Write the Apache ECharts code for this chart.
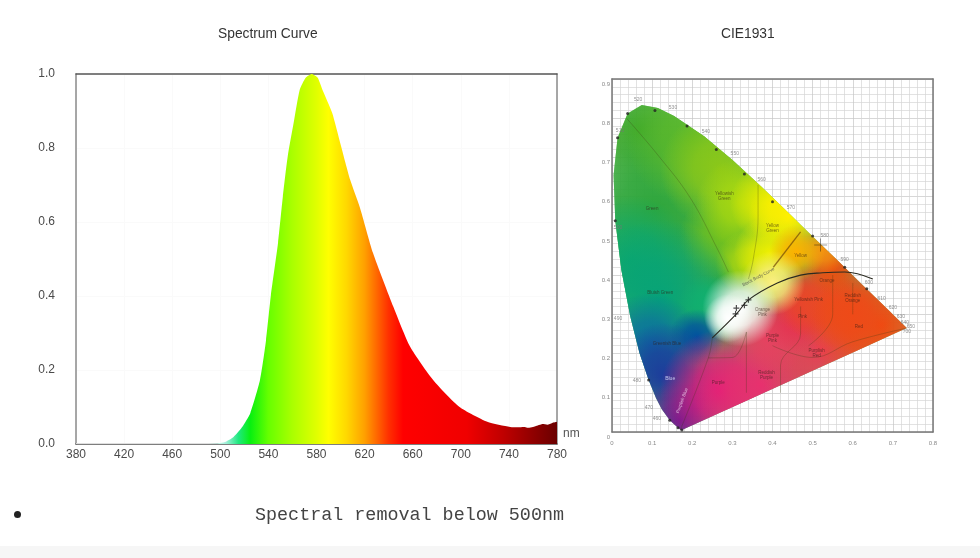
<!DOCTYPE html>
<html>
<head>
<meta charset="utf-8">
<title>Spectrum Curve / CIE1931</title>
<style>
  html, body { margin: 0; padding: 0; background: #fff; }
  #main { width: 980px; height: 558px; }
</style>
</head>
<body>
<div id="main"></div>
<script src="https://cdn.jsdelivr.net/npm/echarts@6/dist/echarts.min.js"></script>
<script>
// spectrum curve
var wavelengths = [380,420,460,490,500,505,511,518,525,533,538,542,548,552,556,561,566,571,576,581,585,593,600,608,616,627,644,658,677,699,722,741,748,752,756,760,764,768,772,776,780];
var intensity = [.002,.002,.002,.002,.003,.007,.019,.045,.084,.173,.28,.4,.543,.668,.776,.868,.957,.99,1,.99,.957,.895,.81,.714,.64,.516,.37,.262,.173,.1,.06,.046,.045,.046,.044,.046,.05,.054,.052,.057,.06];

// CIE1931 spectral locus [x, y]
var locus = [[.1741,.005],[.1714,.0051],[.1644,.0109],[.144,.0297],[.1241,.0578],[.1096,.0868],[.0913,.1327],[.0687,.2007],[.0454,.295],[.0235,.4127],[.0082,.5384],[.0039,.6548],[.0139,.7502],[.0389,.812],[.0743,.8338],[.1142,.8262],[.1547,.8059],[.2296,.7543],[.3016,.6923],[.3731,.6245],[.4441,.5547],[.5125,.4866],[.5752,.4242],[.627,.3725],[.6658,.334],[.6915,.3083],[.7079,.292],[.726,.274],[.7347,.2653]];
var locusDots = [[.1741,.005],[.1644,.0109],[.144,.0297],[.0913,.1327],[.0082,.5384],[.0139,.7502],[.0389,.812],[.107,.82],[.187,.78],[.26,.72],[.33,.658],[.4,.587],[.5,.5],[.58,.42],[.635,.365]];
var locusLabels = [[.015,.29,'490'],[.062,.13,'480'],[.092,.061,'470'],[.112,.033,'460'],[.015,.522,'500'],[.02,.768,'510'],[.065,.848,'520'],[.152,.827,'530'],[.234,.765,'540'],[.306,.709,'550'],[.373,.643,'560'],[.446,.572,'570'],[.53,.5,'580'],[.58,.44,'590'],[.64,.38,'600'],[.672,.34,'610'],[.7,.318,'620'],[.72,.295,'630'],[.73,.28,'640'],[.745,.268,'650'],[.735,.255,'700']];

// colour patches of the diagram [x, y, radius, colour]
var gamutPatches = [
  [.3,.4,.8,'#38a838'],
  [.07,.77,.16,'#3da82a'],[.107,.566,.2,'#2ea63c'],[.195,.745,.16,'#5ab82a'],[.27,.67,.15,'#8cc818'],
  [.277,.497,.11,'#70c020'],[.319,.584,.11,'#a8d810'],[.394,.584,.1,'#e8ec00'],[.44,.55,.1,'#fff000'],
  [.337,.431,.08,'#b0d810'],[.394,.457,.09,'#f0f000'],
  [.045,.44,.16,'#0fa86a'],[.12,.337,.2,'#05a378'],[.237,.329,.07,'#10b070'],
  [.095,.222,.13,'#0b6fa0'],[.212,.242,.07,'#0050a0'],[.13,.145,.13,'#1c3b9c'],
  [.17,.03,.1,'#6a1b90'],[.27,.107,.15,'#e0127f'],[.37,.12,.17,'#e8306e'],[.52,.21,.17,'#ea3c55'],
  [.387,.242,.1,'#e84060'],[.461,.293,.09,'#e83050'],[.486,.337,.09,'#e94030'],
  [.54,.337,.12,'#e84a25'],[.67,.273,.18,'#f04a10'],[.6,.3,.1,'#ee4a18'],[.551,.421,.07,'#ea5010'],
  [.526,.464,.06,'#f59010'],[.461,.457,.07,'#ffb000'],
  [.401,.38,.08,'#fff080'],
  [.32,.315,.095,'#ffffff'],[.29,.29,.06,'#ffffff']
];

// thin region borders, black body curve
var regionLines = [
  [[.037,.799],[.112,.709],[.195,.597],[.264,.464],[.29,.408]],
  [[.364,.63],[.364,.548],[.352,.44],[.34,.39]],
  [[.17,.005],[.24,.189],[.25,.24]],
  [[.24,.189],[.3,.19],[.335,.255]],
  [[.335,.255],[.335,.1]],
  [[.4,.22],[.5,.19],[.6,.23],[.735,.265]],
  [[.47,.32],[.47,.25],[.42,.17],[.42,.1]],
  [[.55,.4],[.55,.3],[.49,.22]],
  [[.6,.38],[.6,.3]]
];
var yellowBorder = [[.402,.42],[.47,.51]];
var blackBodyCurve = [[.25,.24],[.312,.303],[.34,.337],[.412,.38],[.47,.4],[.525,.406],[.58,.408],[.65,.39]];
var sampleMarks = [[.31,.316],[.33,.323],[.34,.337],[.308,.301]];
var bigMark = [[.52,.477]];

var regionNames = [
  [.1,.57,'Green'],[.28,.6,'Yellowish\nGreen'],[.4,.52,'Yellow\nGreen'],[.47,.45,'Yellow'],[.536,.385,'Orange'],
  [.6,.342,'Reddish\nOrange'],[.615,.268,'Red'],[.49,.337,'Yellowish Pink'],[.475,.295,'Pink'],[.51,.2,'Purplish\nRed'],
  [.375,.306,'Orange\nPink'],[.4,.24,'Purple\nPink'],[.385,.145,'Reddish\nPurple'],[.265,.125,'Purple'],
  [.12,.355,'Bluish Green'],[.137,.226,'Greenish Blue']
];

var specTicks = { min: 380, max: 780, step: 40 };
var cieX = { max: .8, step: .1 };
var cieY = { max: .9, step: .1 };

var chart = echarts.init(document.getElementById('main'));

var axisGrey = '#8a8a8a';
var font = '"Liberation Sans", Arial, sans-serif';

function thinLine(points, color, width) {
    return {
        type: 'line', xAxisIndex: 1, yAxisIndex: 1, data: points, symbol: 'none',
        smooth: .4, silent: true, z: 5,
        lineStyle: { color: color, width: width }
    };
}

function renderPatch(params, api) {
    var p = gamutPatches[params.dataIndex];
    var c = api.coord([p[0], p[1]]);
    var r = api.size([p[2], 0])[0];
    var shape = locus.map(function (pt) { return api.coord(pt); });
    return {
        type: 'polygon',
        shape: { points: shape },
        style: {
            fill: new echarts.graphic.RadialGradient(c[0], c[1], r, [
                { offset: 0, color: echarts.color.modifyAlpha(p[3], 1) },
                { offset: .45, color: echarts.color.modifyAlpha(p[3], .75) },
                { offset: 1, color: echarts.color.modifyAlpha(p[3], 0) }
            ], true)
        }
    };
}

function textMarks(points, label) {
    return {
        type: 'scatter', xAxisIndex: 1, yAxisIndex: 1, silent: true, z: 7,
        data: points, symbolSize: 0,
        label: Object.assign({ show: true, position: 'inside', fontFamily: font,
            formatter: function (p) { return p.value[2]; } }, label)
    };
}

var series = [
    {
        type: 'line',
        data: wavelengths.map(function (w, i) { return [w, intensity[i]]; }),
        symbol: 'none',
        smooth: .2,
        silent: true,
        lineStyle: { width: 0 },
        areaStyle: {
            opacity: 1,
            color: new echarts.graphic.LinearGradient(0, 0, 1, 0, [
                { offset: (490 - 380) / 400, color: '#ffffff' },
                { offset: (505 - 380) / 400, color: '#a0f0d8' },
                { offset: (515 - 380) / 400, color: '#20e880' },
                { offset: (525 - 380) / 400, color: '#08f010' },
                { offset: (540 - 380) / 400, color: '#66ff00' },
                { offset: (560 - 380) / 400, color: '#aaff00' },
                { offset: (580 - 380) / 400, color: '#e0ff00' },
                { offset: (590 - 380) / 400, color: '#ffff00' },
                { offset: (605 - 380) / 400, color: '#ffd800' },
                { offset: (620 - 380) / 400, color: '#ffa000' },
                { offset: (640 - 380) / 400, color: '#ff3000' },
                { offset: (652 - 380) / 400, color: '#ff0000' },
                { offset: (705 - 380) / 400, color: '#f00000' },
                { offset: (735 - 380) / 400, color: '#c00000' },
                { offset: (780 - 380) / 400, color: '#6a0000' }
            ])
        }
    },
    {
        type: 'custom', xAxisIndex: 1, yAxisIndex: 1, silent: true, z: 3, clip: false,
        data: gamutPatches.map(function (p) { return [p[0], p[1]]; }),
        renderItem: renderPatch
    },
    {
        type: 'scatter', xAxisIndex: 1, yAxisIndex: 1, silent: true, z: 6,
        data: locusDots, symbolSize: 3, itemStyle: { color: '#222' }
    },
    textMarks(locusLabels, { fontSize: 5, color: '#777' }),
    textMarks(regionNames, { fontSize: 4.5, lineHeight: 5, color: 'rgba(50,30,20,.8)' }),
    textMarks([[.145,.135,'Blue']], { fontSize: 5, color: '#dfe6ff' }),
    textMarks([[.175,.08,'Purplish Blue']], { fontSize: 4.5, rotate: 70, color: '#f0d8f0' }),
    textMarks([[.365,.395,'Black Body Curve']], { fontSize: 4.5, rotate: 28, color: '#444' }),
    {
        type: 'scatter', xAxisIndex: 1, yAxisIndex: 1, silent: true, z: 8,
        data: sampleMarks, symbol: 'path://M4 0H6V4H10V6H6V10H4V6H0V4H4Z', symbolSize: 6, itemStyle: { color: '#222' }
    },
    {
        type: 'scatter', xAxisIndex: 1, yAxisIndex: 1, silent: true, z: 8,
        data: bigMark, symbol: 'path://M9.6 0H10.4V9.6H20V10.4H10.4V20H9.6V10.4H0V9.6H9.6Z', symbolSize: 13, itemStyle: { color: '#111' }
    }
];
regionLines.forEach(function (l) { series.push(thinLine(l, 'rgba(60,60,20,.35)', .8)); });
series.push(thinLine(yellowBorder, 'rgba(120,80,10,.75)', 1.3));
series.push(thinLine(blackBodyCurve, '#2a2a20', 1.1));

var option = {
    animation: false,
    backgroundColor: '#fff',
    textStyle: { fontFamily: font },
    title: [
        { text: 'Spectrum Curve', left: 213, top: 22,
          textStyle: { fontSize: 13.8, fontWeight: 'normal', color: '#333', fontFamily: font } },
        { text: 'CIE1931', left: 716, top: 22,
          textStyle: { fontSize: 13.8, fontWeight: 'normal', color: '#333', fontFamily: font } }
    ],
    grid: [
        { left: 76, top: 74, width: 481, height: 370, show: false },
        { left: 612, top: 79, width: 321, height: 353, show: false }
    ],
    xAxis: [
        {
            type: 'value', gridIndex: 0, min: specTicks.min, max: specTicks.max, interval: specTicks.step,
            axisLine: { show: true, onZero: false, lineStyle: { color: '#555', width: 1.5 } },
            axisTick: { show: false },
            axisLabel: { color: '#4a4a4a', fontSize: 12, margin: 5, hideOverlap: false },
            splitLine: { show: true, lineStyle: { color: '#fafafa' } }
        },
        {
            type: 'value', gridIndex: 1, min: 0, max: cieX.max, interval: cieX.step,
            axisLine: { show: true, onZero: false, lineStyle: { color: '#777', width: 1.5 } },
            axisTick: { show: false },
            axisLabel: { color: '#888', fontSize: 6, margin: 8,
                formatter: function (v) { return v === 0 ? '0' : v.toFixed(1); } },
            splitLine: { show: true, lineStyle: { color: '#c6c6c6', width: .7 } },
            minorTick: { show: false, splitNumber: 5 },
            minorSplitLine: { show: true, lineStyle: { color: '#d6d6d6', width: .7 } }
        },
        {
            type: 'value', gridIndex: 0, position: 'top', min: specTicks.min, max: specTicks.max, interval: specTicks.step,
            axisLine: { show: true, onZero: false, lineStyle: { color: '#555', width: 1.5 } },
            axisTick: { show: false }, axisLabel: { show: false }, splitLine: { show: false }
        },
        {
            type: 'value', gridIndex: 1, position: 'top', min: 0, max: cieX.max, interval: cieX.step,
            axisLine: { show: true, onZero: false, lineStyle: { color: '#777', width: 1.5 } },
            axisTick: { show: false }, axisLabel: { show: false }, splitLine: { show: false }
        }
    ],
    yAxis: [
        {
            type: 'value', gridIndex: 0, min: 0, max: 1, interval: .2,
            axisLine: { show: true, onZero: false, lineStyle: { color: axisGrey, width: 1.5 } },
            axisTick: { show: false },
            axisLabel: { color: '#4a4a4a', fontSize: 12, margin: 21, formatter: function (v) { return v.toFixed(1); } },
            splitLine: { show: true, lineStyle: { color: '#fafafa' } }
        },
        {
            type: 'value', gridIndex: 1, min: 0, max: cieY.max, interval: cieY.step,
            axisLine: { show: true, onZero: false, lineStyle: { color: '#777', width: 1.5 } },
            axisTick: { show: false },
            axisLabel: { color: '#888', fontSize: 6, margin: 2, verticalAlign: 'top', padding: [2, 0, 0, 0],
                formatter: function (v) { return v === 0 ? '0' : v.toFixed(1); } },
            splitLine: { show: true, lineStyle: { color: '#c6c6c6', width: .7 } },
            minorTick: { show: false, splitNumber: 5 },
            minorSplitLine: { show: true, lineStyle: { color: '#d6d6d6', width: .7 } }
        },
        {
            type: 'value', gridIndex: 0, position: 'right', min: 0, max: 1, interval: .2,
            axisLine: { show: true, onZero: false, lineStyle: { color: axisGrey, width: 1.5 } },
            axisTick: { show: false }, axisLabel: { show: false }, splitLine: { show: false }
        },
        {
            type: 'value', gridIndex: 1, position: 'right', min: 0, max: cieY.max, interval: cieY.step,
            axisLine: { show: true, onZero: false, lineStyle: { color: '#777', width: 1.5 } },
            axisTick: { show: false }, axisLabel: { show: false }, splitLine: { show: false }
        }
    ],
    series: series,
    graphic: [
        { type: 'rect', left: 0, top: 546, shape: { width: 980, height: 12 }, style: { fill: '#f6f6f6' }, silent: true },
        { type: 'circle', left: 14, top: 511, shape: { r: 3.5 }, style: { fill: '#222' }, silent: true },
        { type: 'text', left: 563, top: 428, silent: true,
          style: { text: 'nm', fill: '#555', font: '12px "Liberation Sans", Arial, sans-serif' } },
        { type: 'text', left: 255, top: 506, silent: true,
          style: { text: 'Spectral removal below 500nm', fill: '#444', font: '18.4px "Liberation Mono", monospace' } }
    ]
};

chart.setOption(option);
</script>
</body>
</html>
